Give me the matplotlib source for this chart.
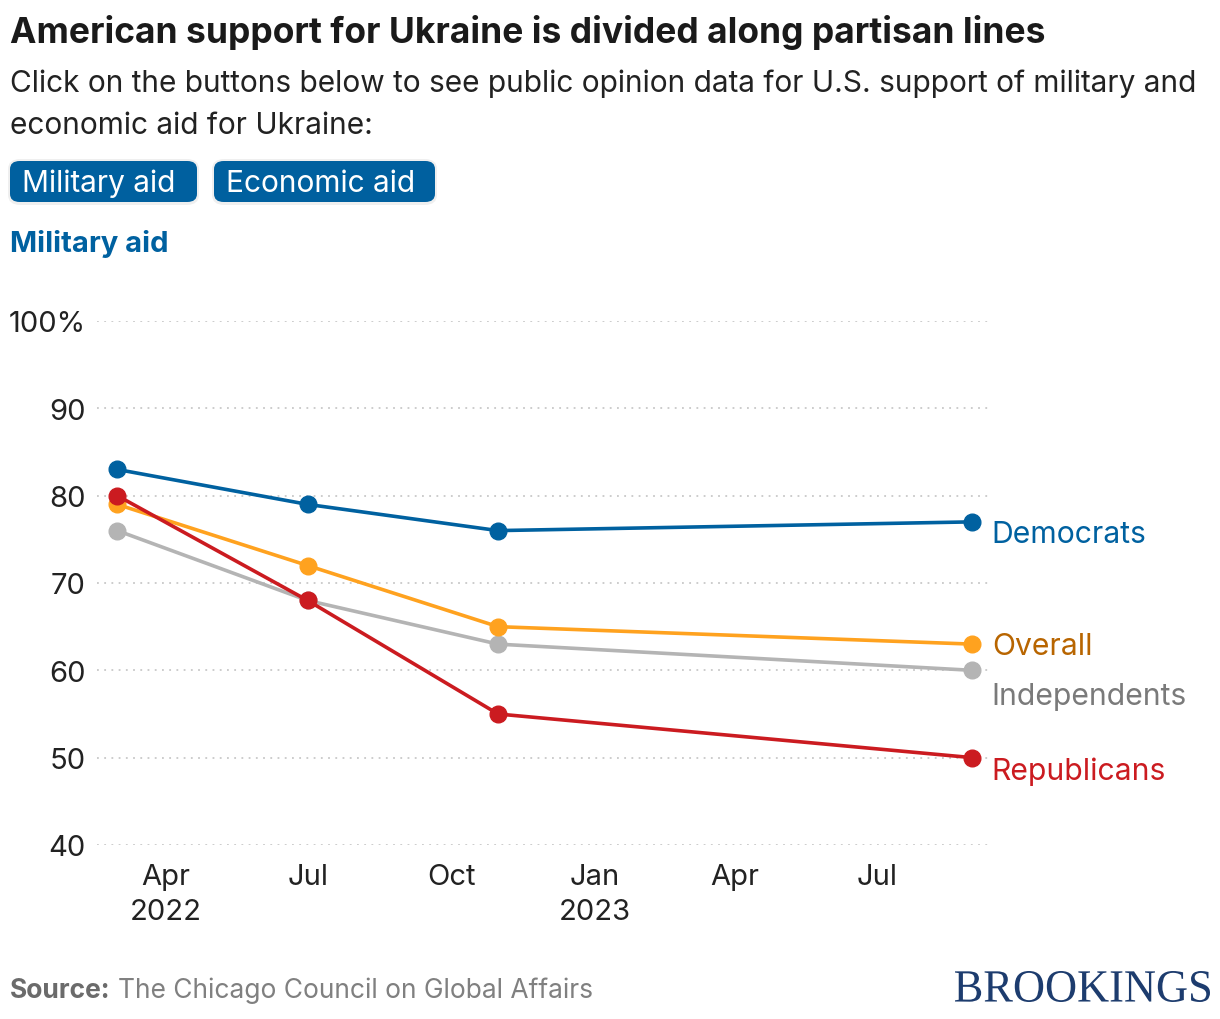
import matplotlib
matplotlib.use('Agg')
import matplotlib.pyplot as plt
from matplotlib.patches import FancyBboxPatch, PathPatch
from matplotlib.textpath import TextPath
from matplotlib.font_manager import FontProperties
from matplotlib.transforms import Affine2D, IdentityTransform
import numpy as np

plt.rcParams['font.family'] = ['Inter', 'DejaVu Sans']

# data
dates = np.array(['2022-03-01', '2022-07-01', '2022-10-31', '2023-08-31'], dtype='datetime64[D]')
democrats = [83, 79, 76, 77]
overall = [79, 72, 65, 63]
independents = [76, 68, 63, 60]
republicans = [80, 68, 55, 50]

series = [
    ('Independents', independents, '#b4b4b4', '#7a7a7a', -2.9),
    ('Overall', overall, '#ffa21f', '#b86500', -0.2),
    ('Republicans', republicans, '#cb1b20', '#cb1b20', -1.5),
    ('Democrats', democrats, '#0061a0', '#0061a0', -1.4),
]

W, H = 1220, 1020
fig = plt.figure(figsize=(W / 100, H / 100), dpi=100)

def fx(px):
    return px / W

def fy(py):
    return 1 - py / H

ax = fig.add_axes([fx(97), fy(846), fx(988) - fx(97), fy(322) - fy(846)])

for name, vals, col, lcol, off in series:
    ax.plot(dates, vals, color=col, lw=2.6, marker='o', ms=12, zorder=3,
            solid_capstyle='round')
    ax.annotate(name, (dates[-1], vals[-1] + off), xytext=(14, 0),
                textcoords='offset points', color=lcol, fontsize=21.7,
                va='center', ha='left', annotation_clip=False)

ax.set_ylim(40, 100)
ax.set_xlim(np.datetime64('2022-02-16'), np.datetime64('2023-09-10'))
ax.set_yticks([40, 50, 60, 70, 80, 90, 100])
ax.set_yticklabels(['40', '50', '60', '70', '80', '90', '100%'])
ticks = np.array(['2022-04-01', '2022-07-01', '2022-10-01', '2023-01-01',
                  '2023-04-01', '2023-07-01'], dtype='datetime64[D]')
ax.set_xticks(ticks)
ax.set_xticklabels(['Apr\n2022', 'Jul', 'Oct', 'Jan\n2023', 'Apr', 'Jul'])
ax.tick_params(axis='both', length=0, labelsize=21, colors='#222222')
ax.tick_params(axis='y', pad=8)
ax.tick_params(axis='x', pad=13)
for lab in ax.get_xticklabels():
    lab.set_linespacing(1.4)
ax.grid(axis='y', color='#c8c8c8', linestyle=(0, (1, 3)), lw=1.3)
for s in ax.spines.values():
    s.set_visible(False)

# header texts
fig.text(fx(10), fy(32), 'American support for Ukraine is divided along partisan lines',
         fontsize=25.5, fontweight='bold', color='#1a1a1a', va='center')
fig.text(fx(10), fy(105), 'Click on the buttons below to see public opinion data for U.S. support of military and\neconomic aid for Ukraine:',
         fontsize=21.5, color='#222222', va='center', linespacing=1.65)

# buttons
for x0, x1, label in [(10, 197, 'Military aid'), (214, 435, 'Economic aid')]:
    shadow = FancyBboxPatch((fx(x0 - 2), fy(206)), fx(x1 + 4) - fx(x0), fy(160) - fy(206),
                            boxstyle='round,pad=0,rounding_size=0.01',
                            transform=fig.transFigure, facecolor='#00000010',
                            edgecolor='none')
    fig.patches.append(shadow)
    box = FancyBboxPatch((fx(x0), fy(203)), fx(x1) - fx(x0), fy(162) - fy(203),
                         boxstyle='round,pad=0,rounding_size=0.008',
                         transform=fig.transFigure, facecolor='#00609f',
                         edgecolor='none')
    fig.patches.append(box)
    fig.text(fx(x0 + 12), fy(184), label, ha='left', va='center',
             fontsize=21.5, color='white')

fig.text(fx(10), fy(244), 'Military aid', fontsize=21, fontweight='bold',
         color='#0061a0', va='center')

# footer
t = fig.text(fx(10), fy(991), 'Source:', fontsize=19, fontweight='bold',
             color='#6b6b6b', va='center')
fig.canvas.draw()
bb = t.get_window_extent()
fig.text(bb.x1 / W + fx(7), fy(991), 'The Chicago Council on Global Affairs',
         fontsize=19, color='#808080', va='center')

# logo: condensed serif word mark squeezed into its box
tp = TextPath((0, 0), 'BROOKINGS', size=40, prop=FontProperties(family='Liberation Serif'))
ext = tp.get_extents()
lx0, lx1, ly0, ly1 = 955, 1210, H - 1003, H - 972
tr = (Affine2D().translate(-ext.x0, -ext.y0)
      .scale((lx1 - lx0) / ext.width, (ly1 - ly0) / ext.height)
      .translate(lx0, ly0))
logo = PathPatch(tr.transform_path(tp), facecolor='#1d3c6e', edgecolor='none')
logo.set_transform(IdentityTransform())
fig.patches.append(logo)

fig.savefig('out.png', dpi=100, facecolor='white')
